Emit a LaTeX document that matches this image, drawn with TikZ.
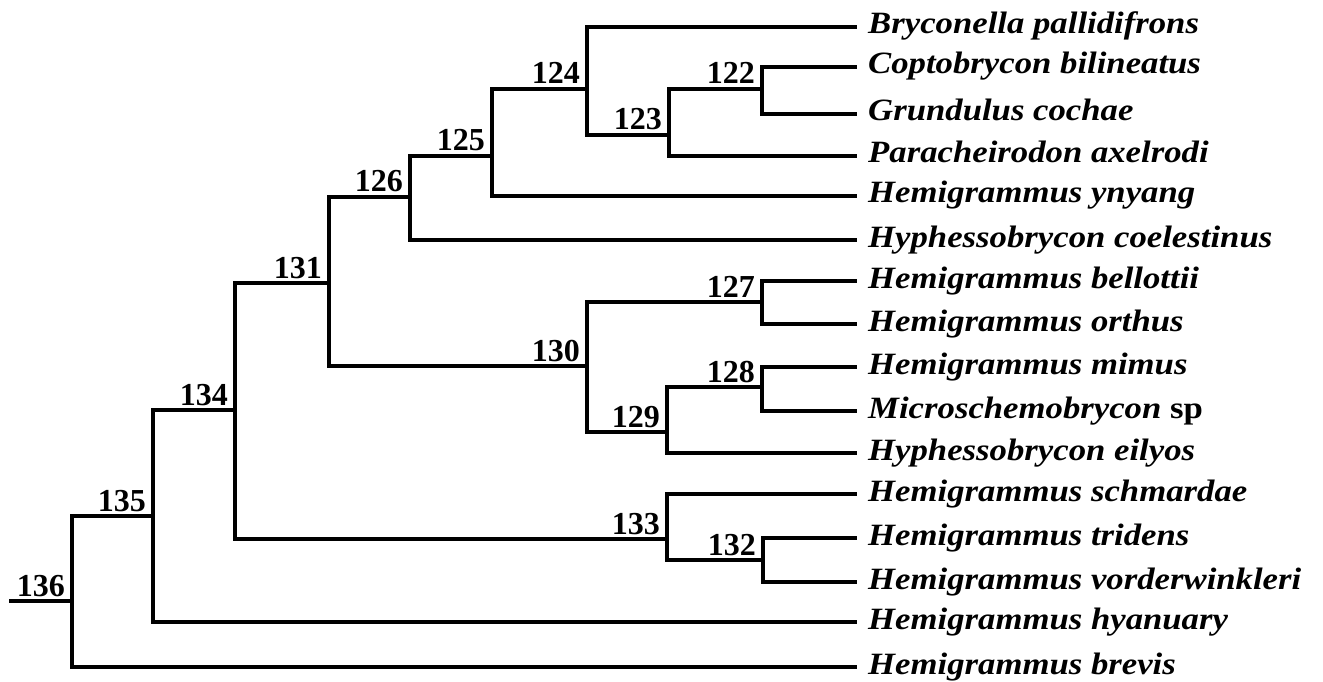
\documentclass[tikz,border=0pt]{standalone}
\usepackage{fontspec}
\setmainfont{Liberation Serif}
\newfontfamily\spfont[FakeStretch=1.12]{Liberation Serif}
\begin{document}
\begin{tikzpicture}[x=1pt,y=-1pt,
  edge/.style={line width=3.6pt, black, line join=miter},
  num/.style={anchor=base east, inner sep=0pt, font=\fontsize{32}{36}\selectfont\bfseries},
  taxon/.style={anchor=base west, inner sep=0pt, font=\spfont\fontsize{31}{36}\selectfont\bfseries\itshape}]
\useasboundingbox (0,0) rectangle (1323,682);
% internal nodes
\coordinate (r) at (9,601);
\coordinate (n136) at (72,601);
\coordinate (n135) at (153,516);
\coordinate (n134) at (235,410);
\coordinate (n131) at (329,283);
\coordinate (n126) at (410,197);
\coordinate (n125) at (492,156);
\coordinate (n124) at (587,89);
\coordinate (n123) at (669,135);
\coordinate (n122) at (762,89);
\coordinate (n130) at (587,366);
\coordinate (n127) at (762,302);
\coordinate (n129) at (667,432);
\coordinate (n128) at (762,387);
\coordinate (n133) at (667,539);
\coordinate (n132) at (763,560);
% leaf ends
\coordinate (l1) at (857,27);
\coordinate (l2) at (857,67);
\coordinate (l3) at (857,114);
\coordinate (l4) at (857,156);
\coordinate (l5) at (857,196);
\coordinate (l6) at (857,240);
\coordinate (l7) at (857,281);
\coordinate (l8) at (857,324);
\coordinate (l9) at (857,367);
\coordinate (l10) at (857,411);
\coordinate (l11) at (857,453);
\coordinate (l12) at (857,494);
\coordinate (l13) at (857,538);
\coordinate (l14) at (857,582);
\coordinate (l15) at (857,622);
\coordinate (l16) at (857,667);
% taxa
\node[taxon] (s1) at ([xshift=11pt,yshift=-7pt]l1) {Bryconella pallidifrons};
\node[taxon] (s2) at ([xshift=11pt,yshift=-7pt]l2) {Coptobrycon bilineatus};
\node[taxon] (s3) at ([xshift=11pt,yshift=-7pt]l3) {Grundulus cochae};
\node[taxon] (s4) at ([xshift=11pt,yshift=-7pt]l4) {Paracheirodon axelrodi};
\node[taxon] (s5) at ([xshift=11pt,yshift=-7pt]l5) {Hemigrammus ynyang};
\node[taxon] (s6) at ([xshift=11pt,yshift=-7pt]l6) {Hyphessobrycon coelestinus};
\node[taxon] (s7) at ([xshift=11pt,yshift=-7pt]l7) {Hemigrammus bellottii};
\node[taxon] (s8) at ([xshift=11pt,yshift=-7pt]l8) {Hemigrammus orthus};
\node[taxon] (s9) at ([xshift=11pt,yshift=-7pt]l9) {Hemigrammus mimus};
\node[taxon] (s10) at ([xshift=11pt,yshift=-7pt]l10) {Microschemobrycon {\upshape sp}};
\node[taxon] (s11) at ([xshift=11pt,yshift=-7pt]l11) {Hyphessobrycon eilyos};
\node[taxon] (s12) at ([xshift=11pt,yshift=-7pt]l12) {Hemigrammus schmardae};
\node[taxon] (s13) at ([xshift=11pt,yshift=-7pt]l13) {Hemigrammus tridens};
\node[taxon] (s14) at ([xshift=11pt,yshift=-7pt]l14) {Hemigrammus vorderwinkleri};
\node[taxon] (s15) at ([xshift=11pt,yshift=-7pt]l15) {Hemigrammus hyanuary};
\node[taxon] (s16) at ([xshift=11pt,yshift=-7pt]l16) {Hemigrammus brevis};
% node labels
\foreach \n in {136,135,134,131,126,125,124,123,122,130,127,129,128,133,132}
  \node[num] (lab\n) at ([xshift=-7pt,yshift=5pt]n\n) {\n};
% branches
\draw[edge] (r) -- (n136);
\draw[edge] (n136) |- (n135);
\draw[edge] (n136) |- (l16);
\draw[edge] (n135) |- (n134);
\draw[edge] (n135) |- (l15);
\draw[edge] (n134) |- (n131);
\draw[edge] (n134) |- (n133);
\draw[edge] (n131) |- (n126);
\draw[edge] (n131) |- (n130);
\draw[edge] (n126) |- (n125);
\draw[edge] (n126) |- (l6);
\draw[edge] (n125) |- (n124);
\draw[edge] (n125) |- (l5);
\draw[edge] (n124) |- (l1);
\draw[edge] (n124) |- (n123);
\draw[edge] (n123) |- (n122);
\draw[edge] (n123) |- (l4);
\draw[edge] (n122) |- (l2);
\draw[edge] (n122) |- (l3);
\draw[edge] (n130) |- (n127);
\draw[edge] (n130) |- (n129);
\draw[edge] (n127) |- (l7);
\draw[edge] (n127) |- (l8);
\draw[edge] (n129) |- (n128);
\draw[edge] (n129) |- (l11);
\draw[edge] (n128) |- (l9);
\draw[edge] (n128) |- (l10);
\draw[edge] (n133) |- (l12);
\draw[edge] (n133) |- (n132);
\draw[edge] (n132) |- (l13);
\draw[edge] (n132) |- (l14);
\end{tikzpicture}
\end{document}
